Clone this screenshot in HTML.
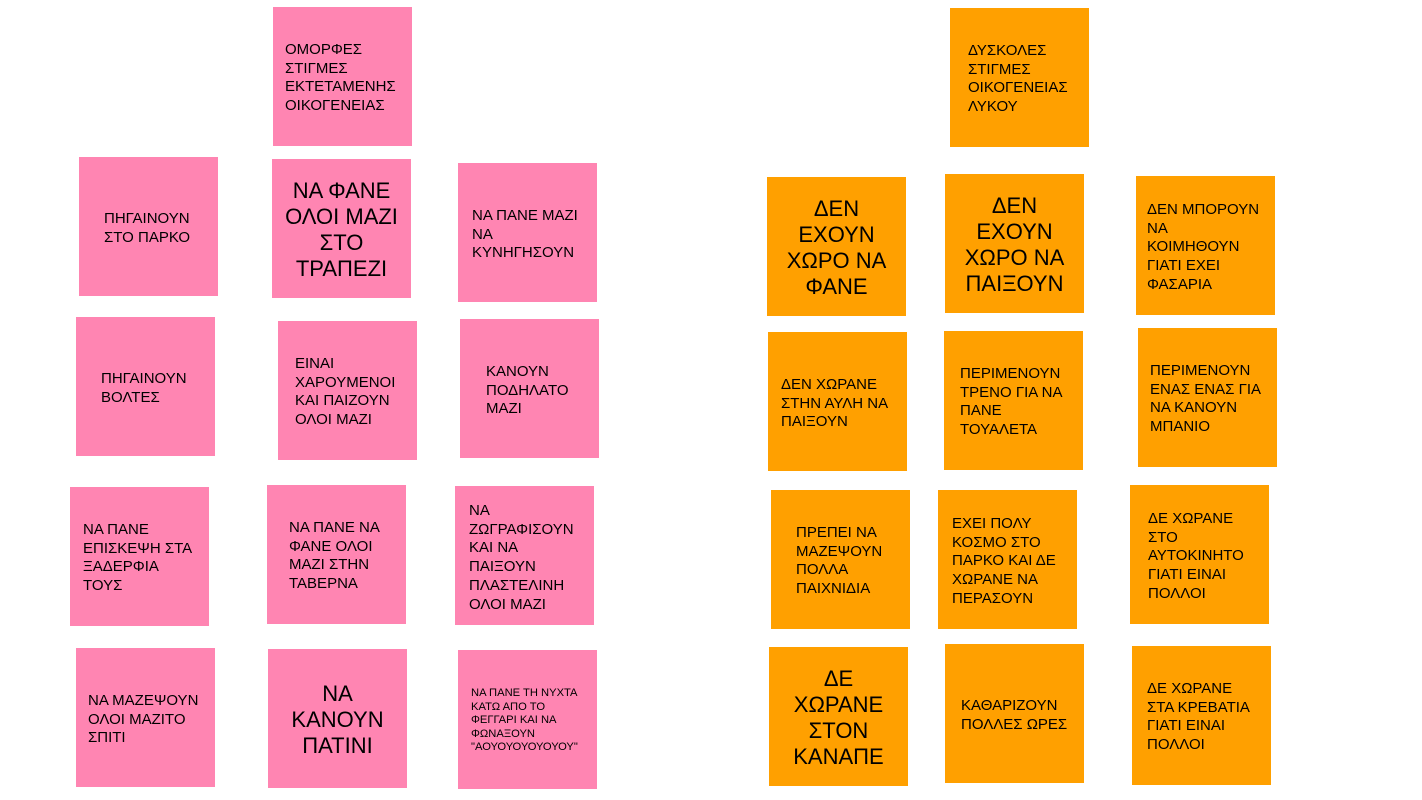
<!DOCTYPE html>
<html><head><meta charset="utf-8"><style>
body{margin:0;width:1422px;height:800px;background:#fff;position:relative;overflow:hidden;font-family:"Liberation Sans","DejaVu Sans",sans-serif;color:#000}
.n{position:absolute;width:139px;height:139px}
.p{background:#FF85B2}
.o{background:#FFA000}
.t{position:absolute;font-size:15px;line-height:18.7px;white-space:nowrap;margin-top:2px}
.b{position:absolute;left:0;width:139px;text-align:center;font-size:22px;line-height:26px;margin-top:2px}
.s{position:absolute;font-size:11.2px;line-height:13.5px;white-space:nowrap;margin-top:2px}
</style></head><body>
<!-- pink -->
<div class="n p" style="left:273px;top:7px"><div class="t" style="left:12px;top:32px">ΟΜΟΡΦΕΣ<br>ΣΤΙΓΜΕΣ<br>ΕΚΤΕΤΑΜΕΝΗΣ<br>ΟΙΚΟΓΕΝΕΙΑΣ</div></div>
<div class="n p" style="left:79px;top:157px"><div class="t" style="left:25px;top:51px">ΠΗΓΑΙΝΟΥΝ<br>ΣΤΟ ΠΑΡΚΟ</div></div>
<div class="n p" style="left:272px;top:159px"><div class="b" style="top:17px">ΝΑ ΦΑΝΕ<br>ΟΛΟΙ ΜΑΖΙ<br>ΣΤΟ<br>ΤΡΑΠΕΖΙ</div></div>
<div class="n p" style="left:458px;top:163px"><div class="t" style="left:14px;top:42px">ΝΑ ΠΑΝΕ ΜΑΖΙ<br>ΝΑ<br>ΚΥΝΗΓΗΣΟΥΝ</div></div>
<div class="n p" style="left:76px;top:317px"><div class="t" style="left:25px;top:51px">ΠΗΓΑΙΝΟΥΝ<br>ΒΟΛΤΕΣ</div></div>
<div class="n p" style="left:278px;top:321px"><div class="t" style="left:17px;top:32px">ΕΙΝΑΙ<br>ΧΑΡΟΥΜΕΝΟΙ<br>ΚΑΙ ΠΑΙΖΟΥΝ<br>ΟΛΟΙ ΜΑΖΙ</div></div>
<div class="n p" style="left:460px;top:319px"><div class="t" style="left:26px;top:42px">ΚΑΝΟΥΝ<br>ΠΟΔΗΛΑΤΟ<br>ΜΑΖΙ</div></div>
<div class="n p" style="left:70px;top:487px"><div class="t" style="left:13px;top:32px">ΝΑ ΠΑΝΕ<br>ΕΠΙΣΚΕΨΗ ΣΤΑ<br>ΞΑΔΕΡΦΙΑ<br>ΤΟΥΣ</div></div>
<div class="n p" style="left:267px;top:485px"><div class="t" style="left:22px;top:32px">ΝΑ ΠΑΝΕ ΝΑ<br>ΦΑΝΕ ΟΛΟΙ<br>ΜΑΖΙ ΣΤΗΝ<br>ΤΑΒΕΡΝΑ</div></div>
<div class="n p" style="left:455px;top:486px"><div class="t" style="left:14px;top:14px">ΝΑ<br>ΖΩΓΡΑΦΙΣΟΥΝ<br>ΚΑΙ ΝΑ<br>ΠΑΙΞΟΥΝ<br>ΠΛΑΣΤΕΛΙΝΗ<br>ΟΛΟΙ ΜΑΖΙ</div></div>
<div class="n p" style="left:76px;top:648px"><div class="t" style="left:12px;top:42px">ΝΑ ΜΑΖΕΨΟΥΝ<br>ΟΛΟΙ ΜΑΖΙΤΟ<br>ΣΠΙΤΙ</div></div>
<div class="n p" style="left:268px;top:649px"><div class="b" style="top:30px">ΝΑ<br>ΚΑΝΟΥΝ<br>ΠΑΤΙΝΙ</div></div>
<div class="n p" style="left:458px;top:650px"><div class="s" style="left:13px;top:35px">ΝΑ ΠΑΝΕ ΤΗ ΝΥΧΤΑ<br>ΚΑΤΩ ΑΠΟ ΤΟ<br>ΦΕΓΓΑΡΙ ΚΑΙ ΝΑ<br>ΦΩΝΑΞΟΥΝ<br>"ΑΟΥΟΥΟΥΟΥΟΥΟΥ"</div></div>
<!-- orange -->
<div class="n o" style="left:950px;top:8px"><div class="t" style="left:18px;top:32px">ΔΥΣΚΟΛΕΣ<br>ΣΤΙΓΜΕΣ<br>ΟΙΚΟΓΕΝΕΙΑΣ<br>ΛΥΚΟΥ</div></div>
<div class="n o" style="left:767px;top:177px"><div class="b" style="top:17px">ΔΕΝ<br>ΕΧΟΥΝ<br>ΧΩΡΟ ΝΑ<br>ΦΑΝΕ</div></div>
<div class="n o" style="left:945px;top:174px"><div class="b" style="top:17px">ΔΕΝ<br>ΕΧΟΥΝ<br>ΧΩΡΟ ΝΑ<br>ΠΑΙΞΟΥΝ</div></div>
<div class="n o" style="left:1136px;top:176px"><div class="t" style="left:11px;top:23px">ΔΕΝ ΜΠΟΡΟΥΝ<br>ΝΑ<br>ΚΟΙΜΗΘΟΥΝ<br>ΓΙΑΤΙ ΕΧΕΙ<br>ΦΑΣΑΡΙΑ</div></div>
<div class="n o" style="left:768px;top:332px"><div class="t" style="left:13px;top:42px">ΔΕΝ ΧΩΡΑΝΕ<br>ΣΤΗΝ ΑΥΛΗ ΝΑ<br>ΠΑΙΞΟΥΝ</div></div>
<div class="n o" style="left:944px;top:331px"><div class="t" style="left:16px;top:32px">ΠΕΡΙΜΕΝΟΥΝ<br>ΤΡΕΝΟ ΓΙΑ ΝΑ<br>ΠΑΝΕ<br>ΤΟΥΑΛΕΤΑ</div></div>
<div class="n o" style="left:1138px;top:328px"><div class="t" style="left:12px;top:32px">ΠΕΡΙΜΕΝΟΥΝ<br>ΕΝΑΣ ΕΝΑΣ ΓΙΑ<br>ΝΑ ΚΑΝΟΥΝ<br>ΜΠΑΝΙΟ</div></div>
<div class="n o" style="left:771px;top:490px"><div class="t" style="left:25px;top:32px">ΠΡΕΠΕΙ ΝΑ<br>ΜΑΖΕΨΟΥΝ<br>ΠΟΛΛΑ<br>ΠΑΙΧΝΙΔΙΑ</div></div>
<div class="n o" style="left:938px;top:490px"><div class="t" style="left:14px;top:23px">ΕΧΕΙ ΠΟΛΥ<br>ΚΟΣΜΟ ΣΤΟ<br>ΠΑΡΚΟ ΚΑΙ ΔΕ<br>ΧΩΡΑΝΕ ΝΑ<br>ΠΕΡΑΣΟΥΝ</div></div>
<div class="n o" style="left:1130px;top:485px"><div class="t" style="left:18px;top:23px">ΔΕ ΧΩΡΑΝΕ<br>ΣΤΟ<br>ΑΥΤΟΚΙΝΗΤΟ<br>ΓΙΑΤΙ ΕΙΝΑΙ<br>ΠΟΛΛΟΙ</div></div>
<div class="n o" style="left:769px;top:647px"><div class="b" style="top:17px">ΔΕ<br>ΧΩΡΑΝΕ<br>ΣΤΟΝ<br>ΚΑΝΑΠΕ</div></div>
<div class="n o" style="left:945px;top:644px"><div class="t" style="left:16px;top:51px">ΚΑΘΑΡΙΖΟΥΝ<br>ΠΟΛΛΕΣ ΩΡΕΣ</div></div>
<div class="n o" style="left:1132px;top:646px"><div class="t" style="left:15px;top:32px">ΔΕ ΧΩΡΑΝΕ<br>ΣΤΑ ΚΡΕΒΑΤΙΑ<br>ΓΙΑΤΙ ΕΙΝΑΙ<br>ΠΟΛΛΟΙ</div></div>
</body></html>
